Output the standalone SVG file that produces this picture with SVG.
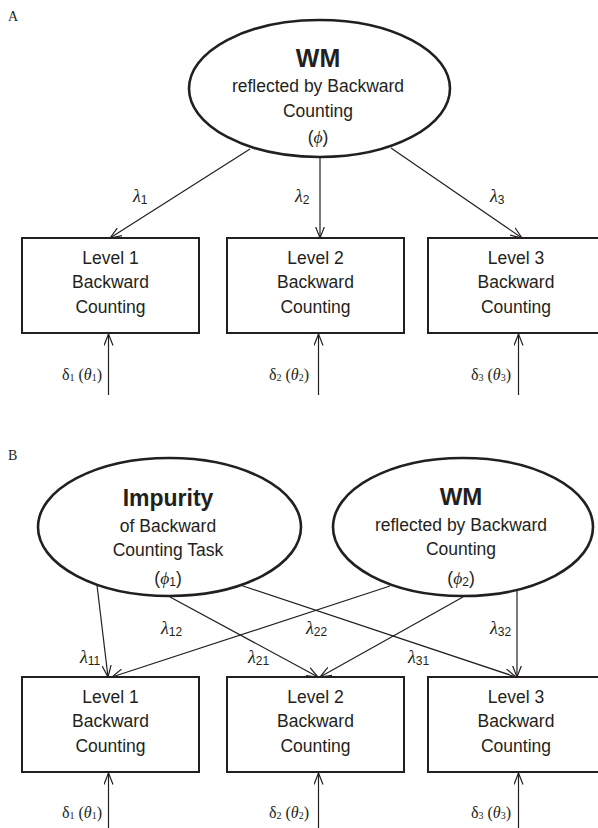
<svg xmlns="http://www.w3.org/2000/svg" width="598" height="828" viewBox="0 0 598 828">
<style>
.bg{fill:#ffffff}
.ell{fill:#ffffff;stroke:#231f20;stroke-width:2.6}
.box{fill:#ffffff;stroke:#231f20;stroke-width:2}
.ln{stroke:#231f20;stroke-width:1.2;fill:none;marker-end:url(#ah)}
.t{font-family:"Liberation Sans",Arial,sans-serif;font-size:17.5px;fill:#231f20;text-anchor:middle}
.tb{font-family:"Liberation Sans",Arial,sans-serif;font-weight:bold;fill:#231f20;text-anchor:middle}
.gr{font-family:"Liberation Serif","Times New Roman",serif;font-style:italic}
.lam{font-family:"Liberation Serif","Times New Roman",serif;font-style:italic;font-size:18px;fill:#231f20}
.sub{font-family:"Liberation Sans",Arial,sans-serif;font-style:normal;font-size:12px}
.del{font-family:"Liberation Serif","Times New Roman",serif;font-size:16px;fill:#231f20;text-anchor:end}
.dsub{font-family:"Liberation Serif","Times New Roman",serif;font-style:normal;font-size:10px}
.pl{font-family:"Liberation Serif","Times New Roman",serif;font-size:14px;fill:#231f20}
</style>
<defs>
<marker id="ah" viewBox="0 0 12 10" refX="11.5" refY="5" markerWidth="12" markerHeight="10" markerUnits="userSpaceOnUse" orient="auto">
<path d="M0,0.5 L11.5,5 L0,9.5" fill="none" stroke="#231f20" stroke-width="1.2"/>
</marker>
</defs>
<rect class="bg" x="0" y="0" width="598" height="828"/>

<text class="pl" x="8" y="21">A</text>
<text class="pl" x="8" y="460">B</text>

<g id="connectors">
<line class="ln" x1="250" y1="149" x2="110" y2="238"/>
<line class="ln" x1="320" y1="158" x2="320" y2="238"/>
<line class="ln" x1="391" y1="148" x2="522" y2="238"/>
<line class="ln" x1="108.5" y1="395" x2="108.5" y2="334"/>
<line class="ln" x1="318.5" y1="395" x2="318.5" y2="334"/>
<line class="ln" x1="518.5" y1="395" x2="518.5" y2="334"/>
<line class="ln" x1="97" y1="585" x2="108" y2="677"/>
<line class="ln" x1="390" y1="586" x2="112" y2="677"/>
<line class="ln" x1="170" y1="597" x2="318" y2="677"/>
<line class="ln" x1="463" y1="597" x2="320" y2="677"/>
<line class="ln" x1="240" y1="585" x2="516" y2="677"/>
<line class="ln" x1="517" y1="591" x2="517" y2="677"/>
<line class="ln" x1="108.5" y1="830" x2="108.5" y2="773"/>
<line class="ln" x1="318.5" y1="830" x2="318.5" y2="773"/>
<line class="ln" x1="518.5" y1="830" x2="518.5" y2="773"/>
</g>

<g id="labels">
<text class="lam" x="133" y="202">λ<tspan class="sub" dy="2">1</tspan></text>
<text class="lam" x="295" y="202">λ<tspan class="sub" dy="2">2</tspan></text>
<text class="lam" x="490" y="202">λ<tspan class="sub" dy="2">3</tspan></text>
<text class="del" x="102" y="380">δ<tspan class="dsub" dy="1">1</tspan><tspan dy="-1"> (</tspan><tspan class="gr">θ</tspan><tspan class="dsub" dy="1">1</tspan><tspan dy="-1">)</tspan></text>
<text class="del" x="309" y="380">δ<tspan class="dsub" dy="1">2</tspan><tspan dy="-1"> (</tspan><tspan class="gr">θ</tspan><tspan class="dsub" dy="1">2</tspan><tspan dy="-1">)</tspan></text>
<text class="del" x="511" y="380">δ<tspan class="dsub" dy="1">3</tspan><tspan dy="-1"> (</tspan><tspan class="gr">θ</tspan><tspan class="dsub" dy="1">3</tspan><tspan dy="-1">)</tspan></text>

<text class="lam" x="80" y="663">λ<tspan class="sub" dy="2">11</tspan></text>
<text class="lam" x="161" y="634">λ<tspan class="sub" dy="2">12</tspan></text>
<text class="lam" x="248" y="663">λ<tspan class="sub" dy="2">21</tspan></text>
<text class="lam" x="306" y="634">λ<tspan class="sub" dy="2">22</tspan></text>
<text class="lam" x="408" y="663">λ<tspan class="sub" dy="2">31</tspan></text>
<text class="lam" x="490" y="634">λ<tspan class="sub" dy="2">32</tspan></text>
<text class="del" x="102" y="818">δ<tspan class="dsub" dy="1">1</tspan><tspan dy="-1"> (</tspan><tspan class="gr">θ</tspan><tspan class="dsub" dy="1">1</tspan><tspan dy="-1">)</tspan></text>
<text class="del" x="309" y="818">δ<tspan class="dsub" dy="1">2</tspan><tspan dy="-1"> (</tspan><tspan class="gr">θ</tspan><tspan class="dsub" dy="1">2</tspan><tspan dy="-1">)</tspan></text>
<text class="del" x="511" y="818">δ<tspan class="dsub" dy="1">3</tspan><tspan dy="-1"> (</tspan><tspan class="gr">θ</tspan><tspan class="dsub" dy="1">3</tspan><tspan dy="-1">)</tspan></text>
</g>

<g id="wmA">
<ellipse class="ell" cx="319.5" cy="88.5" rx="130.5" ry="68.5"/>
<text class="tb" x="318" y="67" font-size="25">WM</text>
<text class="t" x="318" y="92">reflected by Backward</text>
<text class="t" x="318" y="117">Counting</text>
<text class="t" x="318" y="143">(<tspan class="gr">ϕ</tspan>)</text>
</g>

<g id="a_level1">
<rect class="box" x="22" y="238" width="177" height="95"/>
<text class="t" x="110.5" y="264">Level 1</text>
<text class="t" x="110.5" y="288">Backward</text>
<text class="t" x="110.5" y="313">Counting</text>
</g>
<g id="a_level2">
<rect class="box" x="227" y="238" width="177" height="95"/>
<text class="t" x="315.5" y="264">Level 2</text>
<text class="t" x="315.5" y="288">Backward</text>
<text class="t" x="315.5" y="313">Counting</text>
</g>
<g id="a_level3">
<rect class="box" x="428" y="238" width="177" height="95"/>
<text class="t" x="516" y="264">Level 3</text>
<text class="t" x="516" y="288">Backward</text>
<text class="t" x="516" y="313">Counting</text>
</g>

<g id="impurityB">
<ellipse class="ell" cx="169.5" cy="527" rx="131.5" ry="69"/>
<text class="tb" x="168" y="506" font-size="23">Impurity</text>
<text class="t" x="168" y="532">of Backward</text>
<text class="t" x="168" y="556">Counting Task</text>
<text class="t" x="168" y="584">(<tspan class="gr">ϕ</tspan><tspan class="sub" dy="2">1</tspan><tspan dy="-2">)</tspan></text>
</g>

<g id="wmB">
<ellipse class="ell" cx="463" cy="527" rx="130" ry="69"/>
<text class="tb" x="461" y="505" font-size="24">WM</text>
<text class="t" x="461" y="531">reflected by Backward</text>
<text class="t" x="461" y="555">Counting</text>
<text class="t" x="461" y="584">(<tspan class="gr">ϕ</tspan><tspan class="sub" dy="2">2</tspan><tspan dy="-2">)</tspan></text>
</g>

<g id="b_level1">
<rect class="box" x="22" y="677" width="177" height="95"/>
<text class="t" x="110.5" y="703">Level 1</text>
<text class="t" x="110.5" y="727">Backward</text>
<text class="t" x="110.5" y="752">Counting</text>
</g>
<g id="b_level2">
<rect class="box" x="227" y="677" width="177" height="95"/>
<text class="t" x="315.5" y="703">Level 2</text>
<text class="t" x="315.5" y="727">Backward</text>
<text class="t" x="315.5" y="752">Counting</text>
</g>
<g id="b_level3">
<rect class="box" x="428" y="677" width="177" height="95"/>
<text class="t" x="516" y="703">Level 3</text>
<text class="t" x="516" y="727">Backward</text>
<text class="t" x="516" y="752">Counting</text>
</g>
</svg>
